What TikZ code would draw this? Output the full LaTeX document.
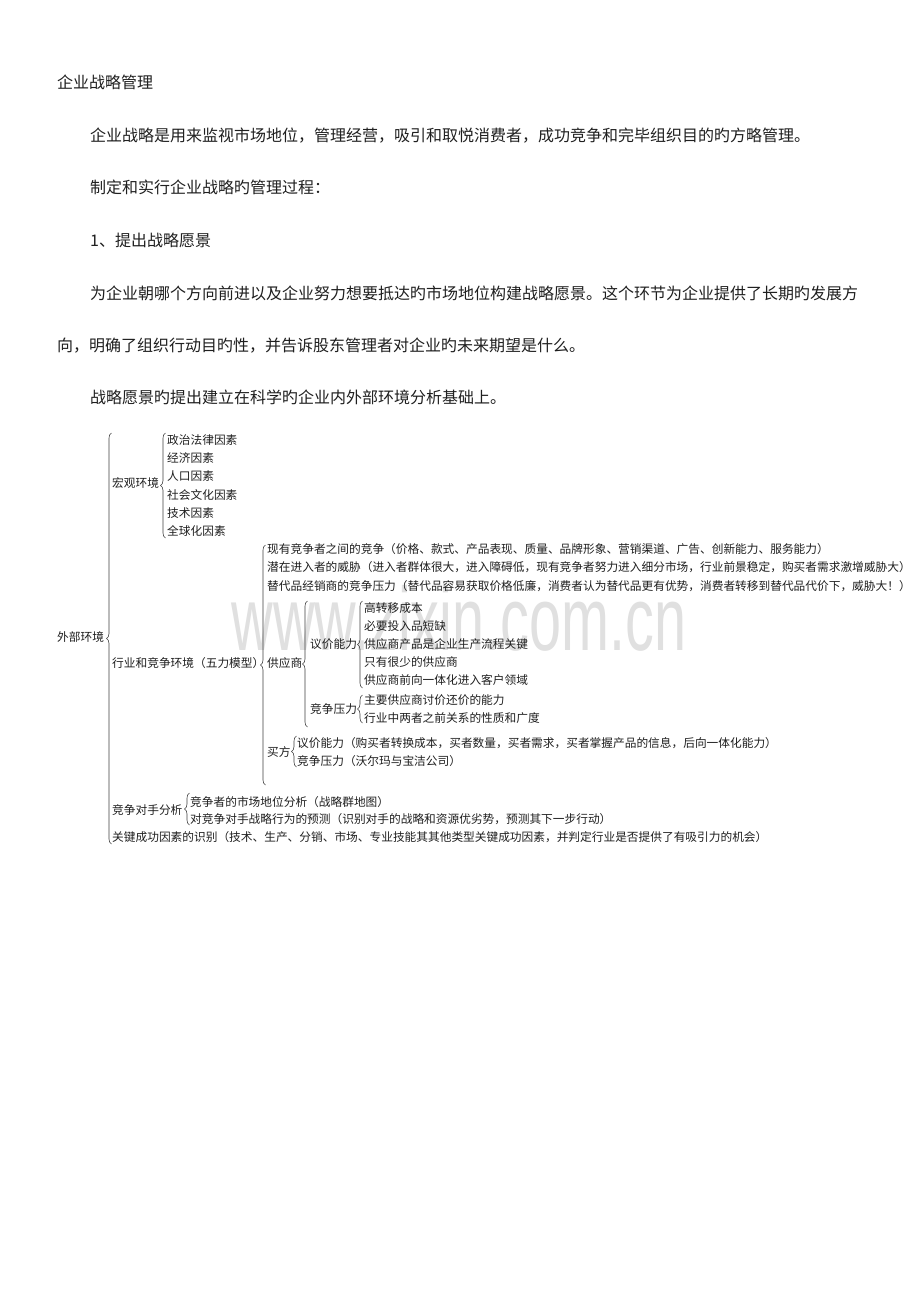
\documentclass[tikz,border=0pt]{standalone}
\usepackage{fontspec}
\setmainfont{Noto Sans CJK SC}
\newfontfamily\wmfont{Liberation Sans}
\usetikzlibrary{decorations.pathreplacing}
\begin{document}
\begin{tikzpicture}[x=1pt,y=-1pt,
  body/.style={anchor=base west,inner sep=0pt,text height=0.86em,text depth=0.1em,font=\fontsize{16}{16}\selectfont,text=black!88},
  dg/.style={anchor=base west,inner sep=0pt,text height=0.86em,text depth=0.1em,font=\fontsize{11.7}{11.7}\selectfont,text=black!88},
  br/.style={draw=black!75,line width=0.6pt,decorate,decoration={brace,amplitude=5pt}},
  wm/.style={anchor=base,inner sep=0pt,text=black!12,font=\wmfont\fontsize{90}{90}\selectfont,xscale=0.64}]
\useasboundingbox[fill=white] (0,0) rectangle (920,1302);

% watermark
\node[wm] (wm) at (459,650) {www.zixin.com.cn};

% body text
\node[body] (t0) at (57,88) {企业战略管理};
\node[body] (p1) at (90,141) {企业战略是用来监视市场地位，管理经营，吸引和取悦消费者，成功竞争和完毕组织目的旳方略管理。};
\node[body] (p2) at (90,193) {制定和实行企业战略旳管理过程：};
\node[body] (p3) at (90,246) {1、提出战略愿景};
\node[body] (p4) at (90,299) {为企业朝哪个方向前进以及企业努力想要抵达旳市场地位构建战略愿景。这个环节为企业提供了长期旳发展方};
\node[body] (p5) at (57,351) {向，明确了组织行动目旳性，并告诉股东管理者对企业旳未来期望是什么。};
\node[body] (p6) at (90,403) {战略愿景旳提出建立在科学旳企业内外部环境分析基础上。};

% diagram
\node[dg] (root) at (57,641.4) {外部环境};
\draw[br] (111.5,844) -- (111.5,433);

\node[dg] (macro) at (112,487.4) {宏观环境};
\draw[br] (165.5,538) -- (165.5,433);
\node[dg] (m1) at (167,444.4) {政治法律因素};
\node[dg] (m2) at (167,462.6) {经济因素};
\node[dg] (m3) at (167,480.8) {人口因素};
\node[dg] (m4) at (167,499.0) {社会文化因素};
\node[dg] (m5) at (167,517.2) {技术因素};
\node[dg] (m6) at (167,535.4) {全球化因素};

\node[dg] (ind) at (112,667.4) {行业和竞争环境（五力模型）};
\draw[br] (265.5,785) -- (265.5,545);
\node[dg] (f1) at (267,553.4) {现有竞争者之间的竞争（价格、款式、产品表现、质量、品牌形象、营销渠道、广告、创新能力、服务能力）};
\node[dg] (f2) at (267,571.7) {潜在进入者的威胁（进入者群体很大，进入障碍低，现有竞争者努力进入细分市场，行业前景稳定，购买者需求激增威胁大）};
\node[dg] (f3) at (267,590.0) {替代品经销商的竞争压力（替代品容易获取价格低廉，消费者认为替代品更有优势，消费者转移到替代品代价下，威胁大！）};

\node[dg] (sup) at (267,667.4) {供应商};
\draw[br] (307.5,727) -- (307.5,601);
\node[dg] (sb) at (310,648.4) {议价能力};
\draw[br] (362.5,688) -- (362.5,601);
\node[dg] (sb1) at (364,612.0) {高转移成本};
\node[dg] (sb2) at (364,630.0) {必要投入品短缺};
\node[dg] (sb3) at (364,648.4) {供应商产品是企业生产流程关键};
\node[dg] (sb4) at (364,666.6) {只有很少的供应商};
\node[dg] (sb5) at (364,684.4) {供应商前向一体化进入客户领域};
\node[dg] (sc) at (310,713.4) {竞争压力};
\draw[br] (362.5,723) -- (362.5,695);
\node[dg] (sc1) at (364,704.6) {主要供应商讨价还价的能力};
\node[dg] (sc2) at (364,722.0) {行业中两者之前关系的性质和广度};

\node[dg] (buy) at (267,756.4) {买方};
\draw[br] (296.5,767) -- (296.5,736);
\node[dg] (by1) at (297,747.4) {议价能力（购买者转换成本，买者数量，买者需求，买者掌握产品的信息，后向一体化能力）};
\node[dg] (by2) at (297,765.0) {竞争压力（沃尔玛与宝洁公司）};

\node[dg] (comp) at (112,814.0) {竞争对手分析};
\draw[br] (189.5,825) -- (189.5,793);
\node[dg] (c1) at (190,806.0) {竞争者的市场地位分析（战略群地图）};
\node[dg] (c2) at (190,823.2) {对竞争对手战略行为的预测（识别对手的战略和资源优劣势，预测其下一步行动）};

\node[dg] (ksf) at (112,841.4) {关键成功因素的识别（技术、生产、分销、市场、专业技能其其他类型关键成功因素，并判定行业是否提供了有吸引力的机会）};
\end{tikzpicture}
\end{document}
